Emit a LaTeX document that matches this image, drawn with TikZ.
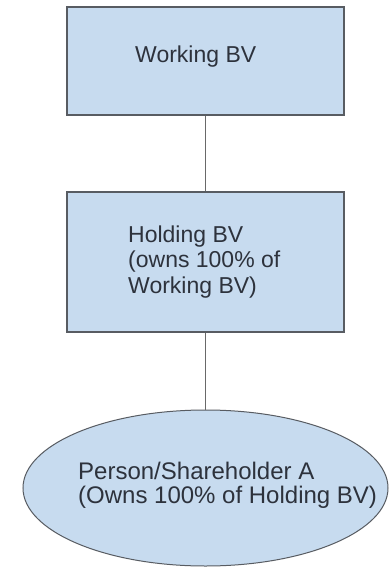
\documentclass[tikz,border=0pt]{standalone}
\usepackage{fontspec}
\setmainfont{Liberation Sans}
\usetikzlibrary{shapes.geometric}
\definecolor{boxfill}{RGB}{199,219,239}
\definecolor{boxline}{RGB}{88,92,98}
\definecolor{txtcol}{RGB}{45,50,60}
\definecolor{linkcol}{RGB}{105,105,105}
\tikzset{
  entity/.style={draw=boxline, line width=1.2pt, fill=boxfill, rectangle, minimum width=277pt, inner sep=0pt},
  owner/.style={draw=boxline, line width=1pt, fill=boxfill, ellipse, minimum width=365pt, minimum height=156pt, inner sep=0pt},
  lbl/.style={anchor=base west, align=left, text=txtcol, inner sep=0pt},
  link/.style={draw=linkcol, line width=0.8pt}
}
\begin{document}
\begin{tikzpicture}[x=1pt,y=-1pt]
\useasboundingbox[fill=white] (0,0) rectangle (391,577);

\node[entity, minimum height=108pt] (work) at (205.5,61) {};
\node[entity, minimum height=140pt] (hold) at (205.5,262) {};
\node[owner] (person) at (205.5,488) {};

\node[lbl, font=\fontsize{23}{25}\selectfont] (worktxt) at (135,63) {Working BV};
\node[lbl, font=\fontsize{23}{25.3}\selectfont] (holdtxt) at (128,293) {Holding BV\\(owns 100\% of\\Working BV)};
\node[lbl, font=\fontsize{24}{23.5}\selectfont] (persontxt) at (78,503) {Person/Shareholder A\\(Owns 100\% of Holding BV)};

\path[link] (work) -- (hold);
\path[link] (hold) -- (person);
\end{tikzpicture}
\end{document}
